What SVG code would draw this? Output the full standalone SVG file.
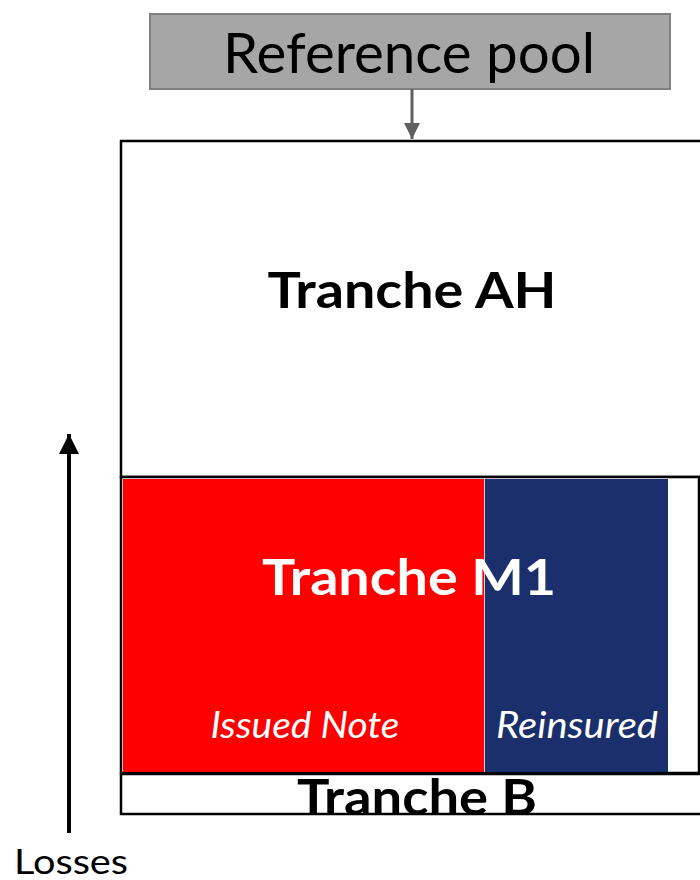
<svg xmlns="http://www.w3.org/2000/svg" width="700" height="880" viewBox="0 0 700 880">
<defs>
<style>
text{font-family:Lato,"Open Sans","Liberation Sans",sans-serif;text-anchor:middle}
.b{font-weight:bold}
.i{font-style:italic;fill:#fff}
.box{fill:#fff;stroke:#000;stroke-width:2.5}
</style>
<marker id="ag" viewBox="0 0 10 10" refX="10" refY="5" markerWidth="18" markerHeight="16" orient="auto" markerUnits="userSpaceOnUse">
<path d="M0,0 L10,5 L0,10 z" fill="#606060"/>
</marker>
<marker id="ak" viewBox="0 0 10 10" refX="10" refY="5" markerWidth="20" markerHeight="20" orient="auto" markerUnits="userSpaceOnUse">
<path d="M0,0 L10,5 L0,10 z" fill="#000"/>
</marker>
</defs>
<g id="tranche-ah">
<rect class="box" x="121" y="141" width="600" height="336"/>
<text class="b" x="412" y="308" font-size="50" textLength="289" lengthAdjust="spacingAndGlyphs">Tranche AH</text>
</g>
<g id="tranche-m1">
<rect class="box" x="121" y="477" width="578" height="296"/>
<rect x="123" y="479" width="361" height="293" fill="#ff0000"/>
<rect x="485" y="479" width="183" height="293" fill="#1a2f6b"/>
<line x1="484.5" y1="479" x2="484.5" y2="772" stroke="#d0d0d0" stroke-width="1"/>
<text class="b" x="409" y="595" font-size="50" fill="#fff" textLength="294" lengthAdjust="spacingAndGlyphs">Tranche M1</text>
<text class="i" x="305" y="738" font-size="36" textLength="189" lengthAdjust="spacingAndGlyphs">Issued Note</text>
<text class="i" x="577" y="738" font-size="36" textLength="162" lengthAdjust="spacingAndGlyphs">Reinsured</text>
</g>
<g id="tranche-b">
<rect class="box" x="121" y="774" width="600" height="40"/>
<text class="b" x="417" y="815" font-size="49" textLength="240" lengthAdjust="spacingAndGlyphs">Tranche B</text>
</g>
<g id="reference-pool">
<rect x="150" y="14" width="520" height="75" fill="#a6a6a6" stroke="#808080" stroke-width="2"/>
<text x="409" y="73" font-size="56" textLength="372" lengthAdjust="spacingAndGlyphs">Reference pool</text>
</g>
<g id="losses">
<text x="71" y="874" font-size="35" textLength="114" lengthAdjust="spacingAndGlyphs">Losses</text>
</g>
<g id="connectors">
<line x1="412" y1="89" x2="412" y2="139" stroke="#606060" stroke-width="3" marker-end="url(#ag)"/>
<line x1="69" y1="833" x2="69" y2="434" stroke="#000" stroke-width="4" marker-end="url(#ak)"/>
</g>
</svg>
